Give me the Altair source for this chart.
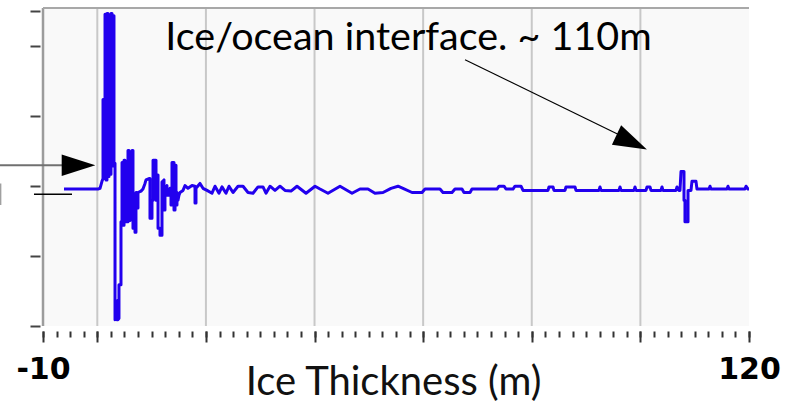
import altair as alt
import pandas as pd

# Radar trace: depth below surface (m) and relative return amplitude
depth_m = [
    -6.13, 0.13, 0.50, 0.86, 1.05, 1.05, 1.23, 1.23, 1.42, 1.42, 1.60, 1.60,
    1.78, 1.78, 1.97, 1.97, 2.15, 2.15, 2.34, 2.34, 2.52, 2.52, 2.71, 2.71,
    2.89, 2.89, 3.07, 3.07, 3.26, 3.26, 3.44, 3.63, 3.81, 3.81, 3.99, 3.99,
    4.36, 4.36, 4.55, 4.55, 4.73, 4.73, 4.92, 4.92, 5.10, 5.10, 5.28, 5.28,
    5.47, 5.47, 5.65, 5.65, 5.84, 5.84, 6.02, 6.02, 6.20, 6.20, 6.39, 6.39,
    6.57, 6.57, 6.76, 6.76, 6.94, 6.94, 7.12, 7.12, 7.31, 7.31, 7.49, 7.49,
    8.05, 8.41, 8.78, 8.97, 9.52, 9.70, 9.70, 10.07, 10.07, 10.26, 10.26,
    10.81, 10.81, 10.99, 10.99, 11.18, 11.18, 11.54, 11.54, 11.91, 11.91,
    12.28, 12.28, 12.46, 12.46, 12.83, 12.83, 13.20, 13.39, 13.57, 13.57,
    13.75, 13.75, 14.12, 14.12, 14.31, 14.31, 14.49, 14.49, 14.67, 14.67,
    14.86, 15.04, 15.23, 15.78, 16.15, 16.70, 17.44, 17.99, 17.99, 18.17,
    18.17, 18.91, 19.46, 20.20, 21.12, 21.67, 22.41, 22.96, 23.70, 24.25,
    24.99, 25.91, 26.83, 27.75, 28.67, 29.59, 30.51, 31.06, 31.80, 32.72,
    33.64, 34.56, 35.67, 36.77, 38.43, 40.09, 41.01, 42.48, 44.69, 46.90,
    48.37, 49.84, 51.13, 52.61, 54.08, 55.37, 56.29, 57.95, 59.79, 60.34,
    63.10, 63.65, 65.31, 65.86, 67.15, 67.52, 68.63, 68.99, 73.60, 73.97,
    74.89, 75.25, 76.54, 76.91, 78.02, 78.39, 82.99, 83.17, 83.91, 84.09,
    86.12, 86.30, 87.96, 88.14, 92.38, 92.56, 92.75, 96.06, 96.25, 96.43,
    98.82, 99.01, 99.19, 101.03, 101.22, 101.77, 101.95, 103.80, 103.98,
    104.16, 106.56, 106.74, 107.11, 107.29, 107.48, 108.03, 108.03, 108.21,
    108.21, 108.77, 108.77, 109.32, 109.50, 110.24, 110.42, 112.63, 112.82,
    113.00, 115.95, 116.13, 116.32, 119.26, 119.45, 119.82, 120.00,
]
amplitude = [
    -0.04, -0.04, -0.03, 0.07, 0.11, 1.24, 1.24, 0.11, 0.11, 2.46, 2.46, 0.09,
    0.09, 2.47, 2.47, 0.14, 0.14, 2.41, 2.41, 0.17, 0.17, 2.47, 2.47, 0.29,
    0.29, 2.44, 2.44, 0.33, 0.33, -1.91, -1.86, -1.91, -1.63, -1.91, -1.89, -1.41,
    -1.41, -0.51, -0.51, 0.34, 0.34, -0.56, -0.56, 0.37, 0.37, -0.51, -0.51, 0.34,
    0.26, -0.51, -0.51, 0.51, 0.51, -0.49, -0.49, 0.49, 0.49, -0.41, -0.41, 0.51,
    0.51, -0.60, -0.60, -0.13, -0.13, -0.66, -0.66, -0.09, -0.09, -0.31, -0.31, -0.09,
    -0.07, -0.04, 0.04, 0.09, 0.11, 0.11, -0.46, -0.46, -0.20, -0.20, 0.37,
    0.37, -0.20, -0.20, 0.16, 0.16, -0.60, -0.60, -0.70, -0.70, 0.06,
    0.09, -0.34, -0.34, -0.06, 0.01, -0.13, -0.13, -0.03, -0.03, -0.27,
    -0.27, 0.34, 0.34, -0.34, -0.34, 0.30, 0.30, -0.27, -0.27, -0.09,
    -0.20, -0.13, -0.09, -0.06, 0.01, -0.03, 0.01, 0.00, -0.24, -0.24,
    -0.03, 0.04, -0.03, -0.06, -0.10, 0.00, -0.10, -0.01, -0.10, 0.00,
    -0.09, 0.00, 0.00, -0.09, -0.10, -0.01, -0.01, -0.10, 0.00, -0.06,
    0.00, -0.06, -0.07, 0.00, -0.10, 0.00, -0.04, -0.10, 0.00, -0.10,
    -0.04, -0.04, -0.10, -0.09, -0.03, 0.00, -0.03, -0.09, -0.09, -0.04,
    -0.04, -0.09, -0.09, -0.04, -0.04, -0.09, -0.09, -0.04, -0.04, 0.00,
    0.00, -0.04, -0.04, 0.00, 0.00, -0.06, -0.06, -0.01, -0.01, -0.06,
    -0.06, -0.01, -0.01, -0.06, -0.06, -0.01, -0.06, -0.06, -0.01, -0.06,
    -0.06, -0.01, -0.06, -0.06, -0.01, -0.01, -0.06, -0.06, -0.01,
    -0.06, -0.06, -0.01, -0.06, -0.06, 0.21, 0.21, -0.20, -0.20,
    -0.51, -0.51, -0.06, -0.06, 0.07, 0.07, -0.04, -0.04, 0.00,
    -0.04, -0.04, 0.00, -0.04, -0.04, 0.00, -0.04, -0.04,
]

x_domain = [-10, 120]
y_domain = [-2, 2.55]
grid_values = [0, 20, 40, 60, 80, 100]
major_ticks = [-10, 0, 20, 40, 60, 80, 100, 120]
minor_ticks = [-10 + 2.5 * k for k in range(53)]
y_tick_values = [-2, -1, 0, 1, 2, 2.5]

# Annotation geometry in data units
label_text = ["Ice/ocean interface. ~ 110m"]
label_x = [57.3]
label_y = [1.943]

arrow_x = [67.71, -17.92]
arrow_x2 = [96.25, -5.03]
arrow_y = [1.81, 0.30]
arrow_y2 = [0.73, 0.30]
arrow_color = ["#000000", "#707070"]
arrow_width = [1.2, 2.0]

head_x = [98.40, -3.46]
head_y = [0.63, 0.30]
head_angle = [25.4, 0.0]

tail_x = [-11.66]
tail_x2 = [-4.66]
tail_y = [-0.114]

stub_x = [-17.85]
stub_y = [0.04]
stub_y2 = [-0.27]

trace = pd.DataFrame({"depth": depth_m, "amp": amplitude, "i": list(range(len(depth_m)))})

xs = alt.Scale(domain=x_domain, nice=False, zero=False)
ys = alt.Scale(domain=y_domain, nice=False, zero=False)

# Bottom axis drawn twice on the same baseline: short minor ticks every 2.5 m,
# long major ticks with the two end labels and the title.
minor_axis = alt.Axis(
    orient="bottom",
    values=minor_ticks,
    grid=False,
    domain=False,
    labels=False,
    tickSize=6,
    tickColor="#333333",
    tickWidth=2,
    offset=5,
    title=None,
)
major_axis = alt.Axis(
    orient="bottom",
    values=major_ticks,
    grid=False,
    tickSize=11,
    tickColor="#333333",
    tickWidth=2,
    domain=False,
    offset=5,
    labelExpr="datum.value === -10 ? '-10' : datum.value === 120 ? '120' : ''",
    labelFont="DejaVu Sans",
    labelFontWeight="bold",
    labelFontSize=30,
    labelColor="#000000",
    labelAngle=0,
    labelOverlap=False,
    labelFlush=False,
    labelPadding=12,
    title="Ice Thickness (m)",
    titleFont="Lato",
    titleFontSize=40,
    titleFontWeight="normal",
    titleColor="#111111",
    titleX=350,
    titleY=63,
    titleBaseline="alphabetic",
)
y_axis = alt.Axis(
    values=y_tick_values,
    labels=False,
    domain=False,
    grid=False,
    tickSize=10,
    tickColor="#444444",
    tickWidth=2,
    offset=3,
    title=None,
)

grid = alt.Chart(pd.DataFrame({"g": grid_values})).mark_rule(
    color="#c8c8c8", strokeWidth=2
).encode(x=alt.X("g:Q", scale=xs, axis=minor_axis))

line = alt.Chart(trace).mark_line(color="#2200ee", strokeWidth=3, strokeJoin="round").encode(
    x=alt.X("depth:Q", scale=xs, axis=major_axis),
    y=alt.Y("amp:Q", scale=ys, axis=y_axis),
    order="i:Q",
)

# Frame: gray rules on the left and top edges only; the right edge stays open
left_border = alt.Chart().mark_rule(color="#9c9c9c", strokeWidth=2.5).encode(
    x=alt.XDatum(x_domain[0], axis=None)
)
top_border = alt.Chart().mark_rule(color="#a8a8a8", strokeWidth=2).encode(
    y=alt.datum(y_domain[1])
)
right_edge = alt.Chart().mark_rule(color="#ffffff", strokeWidth=2.5).encode(
    x=alt.XDatum(x_domain[1] + 0.25, axis=None)
)

arrows_df = pd.DataFrame({"x": arrow_x, "x2": arrow_x2, "y": arrow_y, "y2": arrow_y2,
                          "c": arrow_color, "w": arrow_width})
arrows = alt.Chart(arrows_df).mark_rule().encode(
    x=alt.X("x:Q", axis=None), x2="x2", y="y:Q", y2="y2",
    color=alt.Color("c:N", scale=None),
    strokeWidth=alt.StrokeWidth("w:Q", scale=None),
)

heads_df = pd.DataFrame({"x": head_x, "y": head_y, "a": head_angle})
heads = alt.Chart(heads_df).mark_point(
    shape="M1,0L-1,-0.64L-1,0.64Z", filled=True, color="#000000", opacity=1, size=1130
).encode(
    x=alt.X("x:Q", axis=None), y="y:Q",
    angle=alt.Angle("a:Q", scale=None),
)

tail_df = pd.DataFrame({"x": tail_x, "x2": tail_x2, "y": tail_y})
tail = alt.Chart(tail_df).mark_rule(color="#000000", strokeWidth=1.5).encode(
    x=alt.X("x:Q", axis=None), x2="x2", y="y:Q"
)

stub_df = pd.DataFrame({"x": stub_x, "y": stub_y, "y2": stub_y2})
stub = alt.Chart(stub_df).mark_rule(color="#a0a0a0", strokeWidth=2).encode(
    x=alt.X("x:Q", axis=None), y="y:Q", y2="y2"
)

label_df = pd.DataFrame({"x": label_x, "y": label_y, "t": label_text})
label = alt.Chart(label_df).mark_text(
    font="Lato", fontSize=39.5, color="#000000", align="center", baseline="alphabetic"
).encode(x=alt.X("x:Q", axis=None), y="y:Q", text="t:N")

chart = alt.layer(
    grid, line, left_border, top_border, arrows, heads, tail, stub, label, right_edge
).resolve_axis(
    x="independent"
).properties(
    width=706,
    height=318,
    autosize=alt.AutoSizeParams(type="none"),
    padding={"left": 43, "top": 8, "right": 40, "bottom": 78},
    background="#ffffff",
).configure_view(fill="#f9f9f9", stroke="transparent", strokeWidth=0)

chart.save("out.html", embed_options={"renderer": "svg", "actions": False})
